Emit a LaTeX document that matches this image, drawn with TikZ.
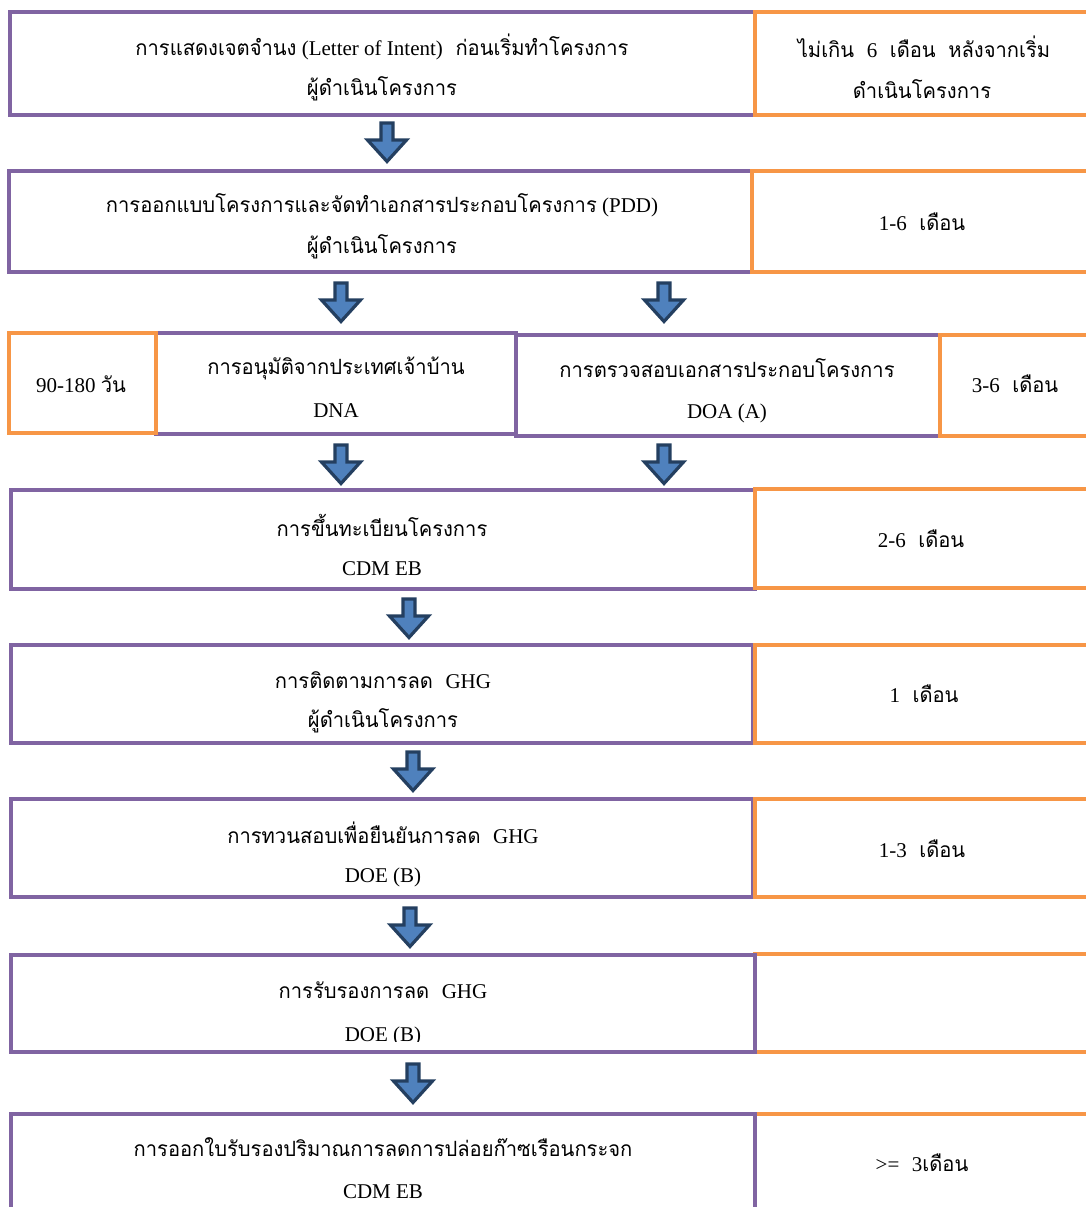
\documentclass[tikz,border=0pt]{standalone}
\usepackage{fontspec}
\setmainfont{Liberation Serif}
\newfontfamily\thaifont[Script=Thai,FakeStretch=0.96]{Loma}
\usetikzlibrary{fit}

\definecolor{stepline}{HTML}{8064A2}
\definecolor{timeline}{HTML}{F79646}
\definecolor{arrowfill}{HTML}{4F81BD}
\definecolor{arrowedge}{HTML}{243F60}

\newcommand{\tht}[1]{{\thaifont #1}}
\newcommand{\gap}{\hspace{0.6em}}

\tikzset{
  stepbox/.style={draw=stepline, line width=4.5pt, fill=white, inner sep=0pt},
  timebox/.style={draw=timeline, line width=4.5pt, fill=white, inner sep=0pt},
  txt/.style={inner sep=0pt, font=\fontsize{21}{25}\selectfont, text=black},
  pics/downarrow/.style={code={
    \draw[fill=arrowfill, draw=arrowedge, line width=3.2pt, line join=miter]
      (-6,2) -- (6,2) -- (6,19) -- (19.5,19) -- (0,40.5) -- (-19.5,19) -- (-6,19) -- cycle;
  }}
}

\begin{document}
\begin{tikzpicture}[x=1pt, y=-1pt]
\useasboundingbox (0,0) rectangle (1086,1207);
\clip (0,0) rectangle (1086,1207);

% Step 1
\node[stepbox, fit={(10,12)(755,115)}] (s1) {};
\node[timebox, fit={(755,12)(1100,115)}] (t1) {};
\node[txt] at (382,47) {\tht{การแสดงเจตจำนง} (Letter of Intent)\gap\tht{ก่อนเริ่มทำโครงการ}};
\node[txt] at (382,89) {\tht{ผู้ดำเนินโครงการ}};
\node[txt] at (924,47) {\tht{ไม่เกิน}\gap 6\gap\tht{เดือน}\gap\tht{หลังจากเริ่ม}};
\node[txt] at (922,89) {\tht{ดำเนินโครงการ}};

% Step 2
\node[stepbox, fit={(9,171)(752,272)}] (s2) {};
\node[timebox, fit={(752,171)(1100,272)}] (t2) {};
\node[txt] at (382,205) {\tht{การออกแบบโครงการและจัดทำเอกสารประกอบโครงการ} (PDD)};
\node[txt] at (382,247) {\tht{ผู้ดำเนินโครงการ}};
\node[txt] at (922,222) {1-6\gap\tht{เดือน}};

% Step 3: two parallel approvals
\node[stepbox, fit={(156,333)(516,434)}] (s3a) {};
\node[timebox, fit={(9,333)(156,433)}] (t3a) {};
\node[stepbox, fit={(516,335)(940,436)}] (s3b) {};
\node[timebox, fit={(940,335)(1100,436)}] (t3b) {};
\node[txt] at (81,384) {90-180 \tht{วัน}};
\node[txt] at (336,368) {\tht{การอนุมัติจากประเทศเจ้าบ้าน}};
\node[txt] at (336,411) {DNA};
\node[txt] at (727,368) {\tht{การตรวจสอบเอกสารประกอบโครงการ}};
\node[txt] at (727,413) {DOA (A)};
\node[txt] at (1015,384) {3-6\gap\tht{เดือน}};

% Step 4
\node[stepbox, fit={(11,490)(755,589)}] (s4) {};
\node[timebox, fit={(755,489)(1100,588)}] (t4) {};
\node[txt] at (382,525) {\tht{การขึ้นทะเบียนโครงการ}};
\node[txt] at (382,569) {CDM EB};
\node[txt] at (921,539) {2-6\gap\tht{เดือน}};

% Step 5
\node[stepbox, fit={(11,645)(753,743)}] (s5) {};
\node[timebox, fit={(755,645)(1100,743)}] (t5) {};
\node[txt] at (383,680) {\tht{การติดตามการลด}\gap GHG};
\node[txt] at (383,721) {\tht{ผู้ดำเนินโครงการ}};
\node[txt] at (924,694) {1\gap\tht{เดือน}};

% Step 6
\node[stepbox, fit={(11,799)(753,897)}] (s6) {};
\node[timebox, fit={(755,799)(1100,897)}] (t6) {};
\node[txt] at (383,833) {\tht{การทวนสอบเพื่อยืนยันการลด}\gap GHG};
\node[txt] at (383,877) {DOE (B)};
\node[txt] at (922,849) {1-3\gap\tht{เดือน}};

% Step 7 (second text line runs into the frame and is cut off)
\node[timebox, fit={(755,954)(1100,1052)}] (t7) {};
\node[stepbox, fit={(11,955)(755,1052)}] (s7) {};
\node[txt] at (383,990) {\tht{การรับรองการลด}\gap GHG};
\begin{scope}
  \clip (11,1000) rectangle (755,1041);
  \node[txt] at (383,1036) {DOE (B)};
\end{scope}

% Step 8
\node[timebox, fit={(755,1114)(1100,1260)}] (t8) {};
\node[stepbox, fit={(11,1114)(755,1260)}] (s8) {};
\node[txt] at (383,1147) {\tht{การออกใบรับรองปริมาณการลดการปล่อยก๊าซเรือนกระจก}};
\node[txt] at (383,1192) {CDM EB};
\node[txt] at (922,1163) {>=\gap 3\tht{เดือน}};

% Flow arrows between the stages
\pic at (387,121) {downarrow};
\pic at (341,281) {downarrow};
\pic at (664,281) {downarrow};
\pic at (341,443) {downarrow};
\pic at (664,443) {downarrow};
\pic at (409,597) {downarrow};
\pic at (413,750) {downarrow};
\pic at (410,906) {downarrow};
\pic at (413,1062) {downarrow};
\end{tikzpicture}
\end{document}
